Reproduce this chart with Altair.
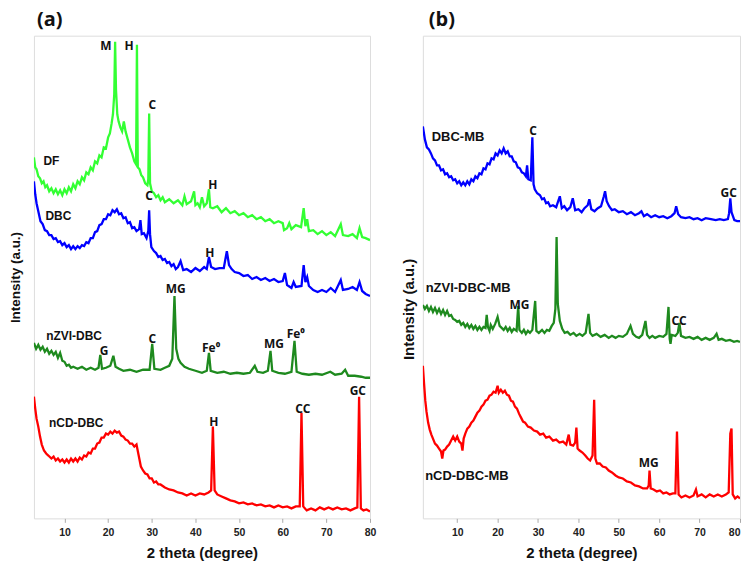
import altair as alt
import pandas as pd

# ---------------- Panel (a) data ----------------
df_x = [3.0,3.3,3.6,4.0,4.4,4.8,5.2,5.6,6.0,6.5,7.0,7.5,8.0,8.5,9.0,9.5,10.0,10.5,11.0,11.5,12.0,12.5,13.0,13.5,14.0,14.5,15.0,15.5,16.0,16.5,17.0,17.5,18.0,18.5,19.0,19.5,20.0,20.4,20.8,21.1,21.4,21.6,21.8,22.1,22.4,22.8,23.2,23.6,24.0,24.5,25.0,25.5,26.0,26.4,26.6,26.8,27.2,27.6,28.0,28.5,29.0,29.2,29.4,29.6,30.0,30.5,31.0,31.5,32.0,32.5,33.0,34.0,35.0,36.0,37.0,37.5,38.0,39.0,39.7,40.0,40.5,41.0,41.5,42.0,42.6,43.1,43.4,44.0,45.0,46.0,47.0,48.0,49.0,50.0,51.0,52.0,53.0,54.0,55.0,56.0,57.0,58.0,59.0,60.0,60.3,61.0,61.5,62.0,63.0,64.2,64.8,65.2,65.6,66.0,67.0,68.0,69.0,70.0,71.0,72.0,73.3,73.8,75.0,76.0,77.0,77.6,78.2,79.0,80.0]
df_y = [362,352,350,343,341,336,338,332,334,328,331,326,330,325,329,324,330,326,332,328,335,331,338,335,342,339,347,345,352,349,358,356,364,362,372,371,382,386,396,405,425,478,430,405,398,392,388,398,388,380,372,366,358,355,475,352,350,344,342,336,334,340,406,336,328,326,322,324,319,322,317,320,316,319,314,323,315,318,328,314,316,312,322,313,316,330,312,311,313,307,311,306,308,304,306,302,304,300,302,298,300,296,298,296,289,291,296,290,294,292,311,293,300,288,289,285,288,284,287,283,295,284,283,285,281,291,282,281,279]

dbc_x = [3.0,3.3,3.6,4.0,4.5,5.0,5.5,6.0,6.5,7.0,7.5,8.0,8.5,9.0,9.5,10.0,10.5,11.0,11.5,12.0,12.5,13.0,13.5,14.0,14.5,15.0,15.5,16.0,16.5,17.0,17.5,18.0,18.5,19.0,19.5,20.0,20.5,21.0,21.5,22.0,22.5,23.0,23.5,24.0,24.5,25.0,25.5,26.0,26.5,27.1,27.4,27.7,28.2,28.8,29.2,29.4,29.6,29.9,30.5,31.0,31.5,32.0,32.5,33.0,33.5,34.0,34.5,35.0,35.5,36.0,36.6,37.2,38.0,39.0,40.0,41.0,42.0,42.6,43.1,43.6,44.5,45.5,46.5,47.2,47.7,48.3,49.0,50.0,51.0,52.0,53.0,54.0,55.0,56.0,57.0,58.0,59.0,60.0,60.5,61.0,62.0,62.5,63.0,64.3,64.8,65.2,65.6,66.0,67.0,68.0,69.0,70.0,71.0,72.0,73.3,73.8,75.0,76.0,77.0,77.6,78.2,79.0,80.0]
dbc_y = [338,325,316,308,298,295,289,288,284,284,280,281,277,278,274,276,272,274,270,273,270,273,271,274,273,277,276,281,281,287,288,294,295,300,300,305,304,309,307,310,305,306,301,302,296,297,291,292,288,290,299,285,286,281,288,309,285,272,268,266,262,263,259,260,256,257,253,255,250,252,258,249,250,247,251,248,252,250,262,252,250,251,251,268,254,250,247,246,243,244,240,242,239,241,238,240,237,238,246,234,231,237,232,233,254,237,242,233,229,227,229,227,231,227,239,229,230,232,229,237,228,225,223]

nzvi_x = [3.0,3.5,4.0,4.5,5.0,5.5,6.0,6.5,7.0,7.5,8.0,8.5,9.0,9.5,10.0,10.5,11.0,11.5,12.0,13.0,14.0,15.0,16.0,17.0,17.8,18.2,18.6,19.5,20.5,21.2,21.7,22.5,23.5,25.0,26.5,28.0,29.5,30.1,30.6,32.0,33.0,34.0,34.7,35.2,35.6,36.1,36.6,37.5,38.5,40.0,41.5,42.6,43.1,43.5,45.0,46.5,48.0,49.5,51.0,52.5,53.6,54.2,55.5,56.6,57.2,57.6,59.0,60.5,62.0,62.7,63.2,64.5,66.0,67.5,69.0,70.9,72.0,73.5,74.3,75.0,76.5,78.0,79.0,80.0]
nzvi_y = [176,170,174,169,172,167,170,165,168,164,167,161,166,158,157,153,154,151,152,150,152,149,151,149,151,164,150,151,153,163,152,150,148,149,147,149,149,175,150,149,151,153,160,223,170,160,156,152,150,148,146,148,166,148,146,147,145,146,145,146,153,147,146,148,168,148,146,145,147,178,147,145,144,145,144,147,144,145,149,143,143,142,141,141]

ncd_x = [3.0,3.3,3.6,4.0,4.4,4.8,5.3,5.8,6.3,7.0,7.5,8.0,8.5,9.0,9.5,10.0,10.5,11.0,11.5,12.0,12.5,13.0,13.5,14.0,14.5,15.0,15.5,16.0,16.5,17.0,17.5,18.0,18.5,19.0,19.5,20.0,20.5,21.0,21.5,22.0,22.5,23.0,23.5,24.0,24.5,25.0,25.5,26.0,26.5,27.0,27.5,28.0,28.5,29.0,29.5,30.0,30.5,31.0,31.5,32.0,33.0,34.0,35.0,36.0,37.0,38.0,39.0,40.0,41.0,42.0,43.0,43.6,44.0,44.4,45.0,46.0,47.0,48.0,49.0,50.0,51.0,52.0,53.0,54.0,55.0,56.0,57.0,58.0,59.0,60.0,61.0,62.0,63.0,63.9,64.3,64.7,65.5,66.5,67.5,68.5,69.5,70.5,71.5,72.5,73.5,74.5,75.5,76.5,77.1,77.5,77.9,78.5,79.2,80.0]
ncd_y = [122,110,100,92,82,74,68,65,63,60,62,58,60,57,59,56,59,56,60,57,60,57,61,59,63,62,66,65,70,70,75,76,81,81,85,84,87,85,88,86,87,83,82,79,78,75,75,72,74,63,52,48,45,44,40,40,36,37,34,34,31,29,28,26,25,23,25,23,25,24,26,28,92,28,24,22,20,18,17,15,16,14,15,13,14,12,13,11,13,11,12,10,12,12,106,12,8,10,8,11,9,11,9,11,9,10,8,10,11,122,10,8,9,7]

# ---------------- Panel (b) data ----------------
dbcmb_x = [1.5,2.0,2.5,3.0,3.5,4.0,4.5,5.0,5.5,6.0,6.5,7.0,7.5,8.0,8.5,9.0,9.5,10.0,10.5,11.0,11.5,12.0,12.5,13.0,13.5,14.0,14.5,15.0,15.5,16.0,16.5,17.0,17.5,18.0,18.5,19.0,19.5,20.0,20.5,21.0,21.5,22.0,22.5,23.0,23.5,24.0,24.5,25.0,25.5,26.0,26.5,27.0,27.3,27.6,28.2,28.6,28.9,29.2,29.8,30.5,31.0,31.5,32.0,32.5,33.0,33.7,34.5,35.4,35.9,36.5,37.2,38.0,38.6,39.2,40.0,40.8,41.5,42.3,42.7,43.2,44.0,44.8,45.6,46.3,46.6,47.0,47.6,48.3,49.0,50.0,51.0,52.0,53.0,54.0,55.0,55.6,56.2,57.0,58.0,59.0,60.0,61.0,62.0,63.0,63.8,64.2,64.7,65.4,66.5,67.5,68.5,69.5,70.5,71.5,72.8,74.0,75.0,76.0,77.0,77.3,77.6,77.9,78.6,79.3,80.0]
dbcmb_y = [393,380,372,370,366,361,359,354,354,349,350,345,346,342,343,339,340,336,338,334,337,334,338,335,340,338,343,341,346,345,351,350,356,355,361,360,366,364,369,366,371,366,368,363,363,358,357,352,351,347,346,343,354,340,339,382,335,330,326,324,320,321,316,317,313,314,312,323,311,313,309,312,321,309,310,307,311,314,320,310,308,311,313,323,328,318,313,309,310,307,308,305,307,304,306,308,303,305,302,304,302,303,301,303,306,313,305,302,301,302,300,301,299,301,300,299,300,299,300,306,321,307,299,298,298]

nzvimb_x = [1.5,2.0,2.5,3.0,3.5,4.0,4.5,5.0,5.5,6.0,6.5,7.0,7.5,8.0,8.5,9.0,9.5,10.0,10.5,11.0,11.5,12.0,12.5,13.0,13.5,14.0,14.5,15.0,15.5,16.0,16.5,17.0,17.3,17.6,18.0,18.3,18.8,19.4,20.0,20.5,21.0,21.5,22.0,22.5,23.0,23.5,24.0,24.7,25.1,25.4,26.0,26.5,27.0,27.5,28.0,28.6,29.3,29.6,30.2,31.0,31.6,32.2,32.8,33.4,33.9,34.3,34.6,34.9,35.4,36.0,36.6,37.3,38.0,38.8,39.5,40.3,41.0,41.8,42.5,42.9,43.5,44.5,45.5,46.5,47.5,48.3,49.2,50.0,51.0,52.0,52.9,53.5,54.3,55.0,55.8,56.6,57.0,57.6,58.3,59.0,60.0,61.0,61.8,62.3,62.6,62.8,63.1,64.0,64.6,65.0,65.4,66.5,67.5,68.5,69.5,70.5,71.5,72.5,73.5,74.2,74.7,75.5,76.5,77.5,78.5,79.3,80.0]
nzvimb_y = [214,210,213,208,212,207,211,206,210,205,209,204,208,203,204,200,199,197,198,194,196,192,195,191,194,190,193,189,192,189,192,191,204,192,188,194,190,195,202,193,191,189,192,188,191,187,190,188,213,189,186,189,185,188,186,189,218,188,186,189,186,189,188,193,196,210,282,215,198,190,186,187,184,186,183,185,183,186,205,186,183,185,182,184,181,183,181,183,182,185,193,185,182,181,184,198,184,181,183,181,183,182,185,212,180,175,184,183,186,196,183,181,182,180,182,179,181,179,181,185,179,180,178,179,177,178,177]

ncdmb_x = [1.5,1.8,2.1,2.4,2.8,3.2,3.6,4.0,4.5,5.0,5.5,6.0,6.3,6.6,7.0,7.5,8.0,8.5,9.0,9.5,10.0,10.5,11.0,11.3,11.6,12.0,12.5,13.0,13.5,14.0,14.5,15.0,15.5,16.0,16.5,17.0,17.5,18.0,18.5,19.0,19.5,20.0,20.3,20.8,21.3,21.8,22.3,22.8,23.3,23.8,24.3,24.8,25.3,25.8,26.3,26.8,27.5,28.2,29.0,29.8,30.5,31.3,32.0,32.8,33.7,34.5,35.3,36.2,37.0,37.6,38.0,38.7,39.2,39.5,39.8,40.3,41.0,41.7,42.3,42.9,43.5,43.9,44.2,44.6,45.3,46.0,46.8,47.5,48.3,49.2,50.0,51.0,52.0,53.0,54.0,55.0,56.0,57.0,57.4,57.6,57.9,58.6,59.4,60.2,61.0,61.8,62.6,63.4,64.0,64.4,64.8,65.5,66.5,67.5,68.5,69.1,69.5,70.5,71.5,72.5,73.5,74.5,75.5,76.5,77.2,77.6,77.9,78.2,78.8,79.4,80.0]
ncdmb_y = [153,135,118,107,96,89,84,80,75,73,70,67,60,68,69,72,74,78,82,78,82,77,75,68,80,85,90,92,96,98,102,106,108,112,114,118,119,123,124,127,126,133,126,129,126,128,124,123,118,117,112,110,105,101,97,96,92,91,88,87,84,85,81,82,78,79,76,77,74,84,74,73,76,91,70,68,66,63,60,58,63,119,60,55,55,52,51,48,46,43,41,40,37,36,33,32,30,30,33,48,30,29,27,28,25,26,24,25,25,87,24,21,23,21,23,29,22,24,21,24,22,24,22,24,26,85,90,24,20,22,20]

# ---------------- annotations ----------------
a_names = ["DF", "DBC", "nZVI-DBC", "nCD-DBC"]
a_name_x = [7.0, 8.6, 12.2, 12.7]
a_name_y = [358, 303, 183, 96]
a_peaks = ["M", "H", "C", "H", "C", "H", "MG", "G", "C", "Fe\u2070", "MG", "Fe\u2070", "H", "CC", "GC"]
a_peak_x = [19.5, 24.8, 30.1, 44.0, 29.4, 43.3, 35.5, 19.1, 30.1, 43.6, 58.0, 63.0, 44.2, 64.6, 77.2]
a_peak_y = [474, 474, 414, 334, 323, 266, 230, 168, 180, 171, 175, 185, 97, 110, 128]

b_names = ["DBC-MB", "nZVI-DBC-MB", "nCD-DBC-MB"]
b_name_x = [10.2, 12.7, 12.4]
b_name_y = [382, 231, 42]
b_peaks = ["C", "GC", "MG", "CC", "MG"]
b_peak_x = [28.8, 77.2, 25.4, 64.9, 57.4]
b_peak_y = [388, 326, 214, 198, 56]

tick_values = [10, 20, 30, 40, 50, 60, 70, 80]


def series(name, xs, ys):
    return pd.DataFrame({"two_theta": xs, "intensity": ys, "sample": name})


a_df = pd.concat([
    series("DF", df_x, df_y),
    series("DBC", dbc_x, dbc_y),
    series("nZVI-DBC", nzvi_x, nzvi_y),
    series("nCD-DBC", ncd_x, ncd_y),
])
b_df = pd.concat([
    series("DBC-MB", dbcmb_x, dbcmb_y),
    series("nZVI-DBC-MB", nzvimb_x, nzvimb_y),
    series("nCD-DBC-MB", ncdmb_x, ncdmb_y),
])

color_scale = alt.Scale(
    domain=["DF", "DBC", "nZVI-DBC", "nCD-DBC", "DBC-MB", "nZVI-DBC-MB", "nCD-DBC-MB"],
    range=["#33FF33", "#0000FF", "#1E8A1E", "#FF0000", "#0000FF", "#1E8A1E", "#FF0000"],
)
y_scale = alt.Scale(domain=[0, 484], nice=False, zero=False)


def panel(df, xmin, names, nx, ny, peaks, px, py, ytitle_size, ytitle_pad, name_size,
          ytitle_y=None, flush=False):
    x_axis = alt.Axis(
        values=tick_values, title="2 theta (degree)", labelFont="Liberation Sans",
        labelFontWeight="bold", labelFontSize=10.5, labelColor="#222222",
        tickColor="#aaaaaa", tickSize=4, domain=False, grid=False, labelFlush=flush,
        labelPadding=5, titleFont="Liberation Sans", titleFontWeight="bold",
        titleFontSize=15, titleColor="#111111", titlePadding=8,
    )
    yargs = dict(
        title="Intensity (a.u.)", labels=False, ticks=False, domain=False, grid=False,
        titleFont="Liberation Sans", titleFontWeight="bold", titleFontSize=ytitle_size,
        titleColor="#111111", titlePadding=ytitle_pad,
    )
    if ytitle_y is not None:
        yargs["titleY"] = ytitle_y
    y_axis = alt.Axis(**yargs)
    lines = alt.Chart(df).mark_line(strokeWidth=2.3, clip=True).encode(
        x=alt.X("two_theta:Q", scale=alt.Scale(domain=[xmin, 80], nice=False, zero=False), axis=x_axis),
        y=alt.Y("intensity:Q", scale=y_scale, axis=y_axis),
        color=alt.Color("sample:N", scale=color_scale, legend=None),
        detail="sample:N",
    )
    name_df = pd.DataFrame({"label": names, "two_theta": nx, "intensity": ny})
    peak_df = pd.DataFrame({"label": peaks, "two_theta": px, "intensity": py})
    name_text = alt.Chart(name_df).mark_text(
        font="Liberation Sans", fontWeight="bold", fontSize=name_size, color="#111111",
        align="center", baseline="middle",
    ).encode(x="two_theta:Q", y="intensity:Q", text="label:N")
    peak_text = alt.Chart(peak_df).mark_text(
        font="Open Sans", fontWeight="bold", fontSize=12, color="#111111",
        align="center", baseline="middle",
    ).encode(x="two_theta:Q", y="intensity:Q", text="label:N")
    return alt.layer(lines, name_text, peak_text)


panel_a = panel(a_df, 3.0, a_names, a_name_x, a_name_y, a_peaks, a_peak_x, a_peak_y,
                13.5, 11.5, 12).properties(
    width=337, height=484,
    title=alt.TitleParams("(a)", anchor="start", frame="group", font="Open Sans",
                          fontSize=20, fontWeight="bold", color="#111111", offset=6, dx=3),
)
panel_b = panel(b_df, 1.5, b_names, b_name_x, b_name_y, b_peaks, b_peak_x, b_peak_y,
                15, 6, 13, ytitle_y=274, flush=True).properties(
    width=318, height=484,
    title=alt.TitleParams("(b)", anchor="start", frame="group", font="Open Sans",
                          fontSize=20, fontWeight="bold", color="#111111", offset=6, dx=6),
)

chart = alt.hconcat(panel_a, panel_b, spacing=24).properties(
    padding=0,
).configure_view(
    stroke="#8c8c8c", strokeWidth=1.5,
).configure(background="white")

chart.save("out.html", embed_options={"renderer": "svg", "actions": False})
